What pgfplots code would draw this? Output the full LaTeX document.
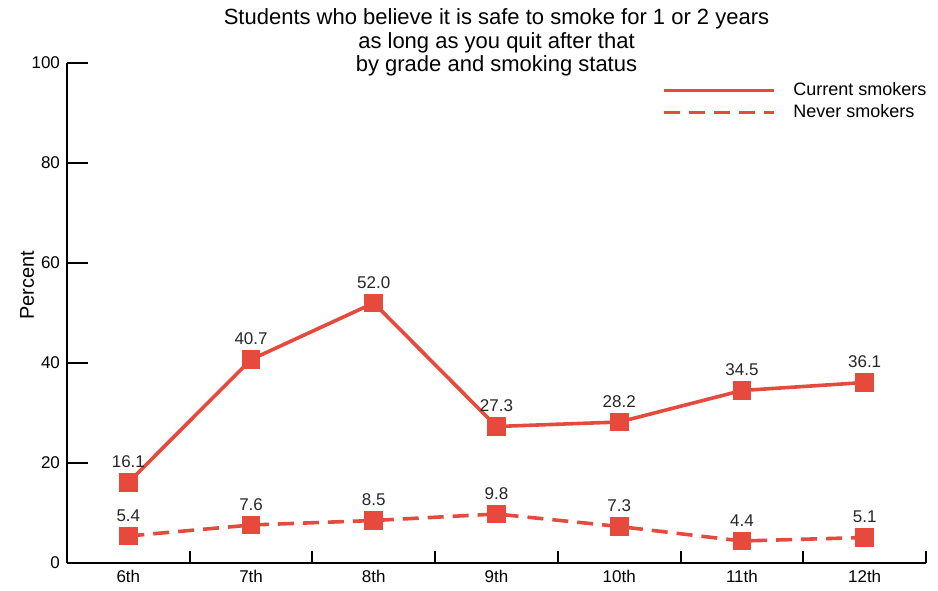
\documentclass[border=0pt]{standalone}
\usepackage{fontspec}
\setmainfont{Liberation Sans}
\usepackage{pgfplots}
\pgfplotsset{compat=1.18}
\definecolor{sred}{HTML}{E64A3D}

\begin{document}
\begin{tikzpicture}
\path[use as bounding box] (-33.5pt,-13.5pt) rectangle (435.5pt,281.5pt);
\begin{axis}[
    at={(0pt,0pt)}, anchor=south west,
    scale only axis,
    width=429.5pt, height=250pt,
    axis lines*=left,
    axis line style={line width=1pt},
    xmin=-0.5, xmax=6.5,
    ymin=0, ymax=100,
    ytick={0,20,...,100},
    xtick={0,...,6},
    xticklabels={6th,7th,8th,9th,10th,11th,12th},
    minor xtick={0.5,1.5,...,6.5},
    minor tick length=6pt,
    x tick style={line width=1pt,black,/pgfplots/major tick length=0pt},
    y tick style={line width=1pt,black,/pgfplots/major tick length=10.5pt},
    tick align=inside,
    tick label style={font=\fontsize{8.5}{10}\selectfont},
    /pgf/number format/assume math mode=true,
    ylabel={Percent},
    ylabel style={font=\fontsize{8}{10}\selectfont},
    every axis y label/.style={at={(rel axis cs:0,0.556)},xshift=-20pt,rotate=90,anchor=center},
    clip=false,
    nodes near coords={\pgfmathprintnumber[fixed,fixed zerofill,precision=1]{\pgfplotspointmeta}},
    every node near coord/.append style={font=\fontsize{8.5}{10}\selectfont,text=black!85,anchor=south,yshift=3pt},
    legend style={draw=none,fill=none,at={(rel axis cs:0.686,0.978)},anchor=north west,
        font=\fontsize{9}{10}\selectfont,row sep=-1pt,column sep=6.5pt},
    legend cell align=left,
    legend image code/.code={\draw[#1,mark=none] (0pt,0pt) -- (55pt,0pt);},
]
\addplot[sred,line width=1.8pt,mark=square*,mark size=3.75pt,mark options={solid}]
  coordinates {(0,16.1) (1,40.7) (2,52.0) (3,27.3) (4,28.2) (5,34.5) (6,36.1)};
\addlegendentry{Current smokers}
\addplot[sred,line width=1.8pt,dash pattern=on 8pt off 4.5pt,mark=square*,mark size=3.75pt,mark options={solid}]
  coordinates {(0,5.4) (1,7.6) (2,8.5) (3,9.8) (4,7.3) (5,4.4) (6,5.1)};
\addlegendentry{Never smokers}
\node[anchor=south,align=center,font=\fontsize{11}{11.6}\selectfont,yshift=-10pt]
  at (rel axis cs:0.5,1) {Students who believe it is safe to smoke for 1 or 2 years\\as long as you quit after that\\by grade and smoking status};
\end{axis}
\end{tikzpicture}
\end{document}
